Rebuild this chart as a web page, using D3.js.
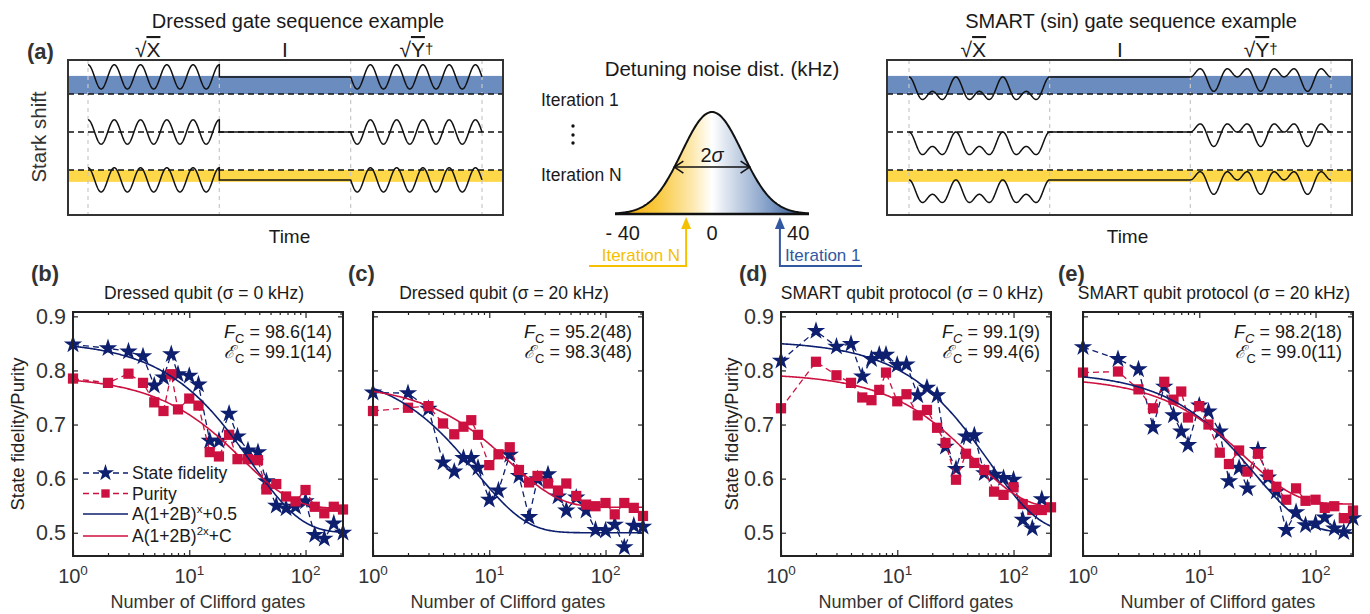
<!DOCTYPE html>
<html>
<head>
<meta charset="utf-8">
<script src="https://cdn.jsdelivr.net/npm/d3@7"></script>
<style>
  body { margin: 0; background: #fff; }
  text { font-family: Arial, "Liberation Sans", Helvetica, sans-serif; fill: #1a1a1a; }
</style>
</head>
<body>
<svg id="fig" width="1370" height="614"></svg>
<script>
// ---------- data ----------
var clifford = [1, 2, 3, 4, 5, 6, 7, 8, 10, 12, 15, 18, 22, 26, 32, 39, 46, 56, 68, 82, 100, 120, 145, 175, 210];

// (b) dressed qubit, sigma = 0 kHz
var fidelityB = [0.848, 0.841, 0.835, 0.826, 0.772, 0.787, 0.830, 0.793, 0.790, 0.774, 0.670, 0.670, 0.720,
                 0.678, 0.652, 0.649, 0.595, 0.550, 0.545, 0.548, 0.558, 0.496, 0.489, 0.517, 0.500];
var purityB   = [0.785, 0.777, 0.794, 0.777, 0.741, 0.725, 0.793, 0.728, 0.748, 0.735, 0.649, 0.641, 0.681,
                 0.636, 0.636, 0.634, 0.580, 0.590, 0.567, 0.558, 0.579, 0.548, 0.536, 0.548, 0.543];
// (c) dressed qubit, sigma = 20 kHz
var fidelityC = [0.759, 0.758, 0.729, 0.630, 0.613, 0.638, 0.638, 0.620, 0.561, 0.578, 0.644, 0.605, 0.529,
                 0.599, 0.608, 0.567, 0.541, 0.565, 0.541, 0.505, 0.504, 0.515, 0.473, 0.513, 0.511];
var purityC   = [0.725, 0.731, 0.734, 0.702, 0.682, 0.696, 0.708, 0.681, 0.625, 0.645, 0.658, 0.616, 0.593,
                 0.605, 0.591, 0.578, 0.591, 0.568, 0.552, 0.549, 0.555, 0.534, 0.555, 0.546, 0.531];
// (d) SMART, sigma = 0 kHz
var fidelityD = [0.818, 0.873, 0.844, 0.849, 0.789, 0.821, 0.829, 0.829, 0.810, 0.811, 0.754, 0.768, 0.754,
                 0.659, 0.618, 0.678, 0.680, 0.610, 0.607, 0.601, 0.598, 0.524, 0.508, 0.562, null];
var purityD   = [0.730, 0.816, 0.791, 0.777, 0.750, 0.745, 0.764, 0.796, 0.743, 0.756, 0.717, 0.727, 0.694,
                 0.666, 0.598, 0.646, 0.629, 0.616, 0.576, 0.570, 0.584, 0.553, 0.542, 0.542, 0.547];
// (e) SMART, sigma = 20 kHz
var fidelityE = [0.843, 0.821, 0.802, 0.695, 0.770, 0.717, 0.687, 0.662, 0.735, 0.724, 0.687, 0.595, 0.620,
                 0.582, 0.653, 0.602, 0.576, 0.505, 0.538, 0.514, 0.517, 0.528, 0.508, 0.501, 0.527];
var purityE   = [0.796, 0.798, 0.765, 0.730, 0.779, 0.746, 0.761, 0.713, 0.734, 0.700, 0.648, 0.627, 0.652,
                 0.613, 0.646, 0.607, 0.585, 0.561, 0.582, 0.559, 0.561, 0.546, 0.549, 0.527, 0.541];

// fit parameters [A, B, C]: fidelity A(1+2B)^x+0.5, purity A(1+2B)^2x+C
var fidFitB = [0.355, -0.0145, 0.5],  purFitB = [0.245, -0.0086, 0.545];
var fidFitC = [0.304, -0.061, 0.5],   purFitC = [0.229, -0.0165, 0.547];
var fidFitD = [0.355, -0.008, 0.5],   purFitD = [0.250, -0.0055, 0.545];
var fidFitE = [0.298, -0.0165, 0.5],  purFitE = [0.235, -0.0099, 0.553];

var panelLetters = ["(b)", "(c)", "(d)", "(e)"];
var panelTitles = ["Dressed qubit (\u03c3 = 0 kHz)", "Dressed qubit (\u03c3 = 20 kHz)",
                   "SMART qubit protocol (\u03c3 = 0 kHz)", "SMART qubit protocol (\u03c3 = 20 kHz)"];
var fcLabels = ["98.6(14)", "95.2(48)", "99.1(9)", "98.2(18)"];
var ecLabels = ["99.1(14)", "98.3(48)", "99.4(6)", "99.0(11)"];
var yTicks = [0.5, 0.6, 0.7, 0.8, 0.9];
var xMajor = [1, 10, 100];
var xMinor = [2, 3, 4, 5, 6, 7, 8, 9, 20, 30, 40, 50, 60, 70, 80, 90, 200];
var legendLabels = ["State fidelity", "Purity", "A(1+2B)", "A(1+2B)"];

// schematic (a)
var gateNames = ["\u221aX", "I", "\u221aY\u2020"];
var starkShift = [0.45, 0, -0.26];      // flat level of each row, in row units
var detuneTicks = [-40, 0, 40];
var noiseSigma = 14;
var iterMarks = [{ label: "Iteration N", det: -12, color: "#f5c000", dir: -1 },
                 { label: "Iteration 1", det: 31.5, color: "#3358a2", dir: 1 }];

var navy = "#0d1f6e", crimson = "#cc1140";

var svg = d3.select("#fig");

// ---------- panels (b)-(e) ----------
var panelTop = 312, panelH = 244, panelW = 270;
var lefts = [73, 373, 781, 1083];
var fidSets = [fidelityB, fidelityC, fidelityD, fidelityE];
var purSets = [purityB, purityC, purityD, purityE];
var fidFits = [fidFitB, fidFitC, fidFitD, fidFitE];
var purFits = [purFitB, purFitC, purFitD, purFitE];

var star = d3.symbol().type(d3.symbolStar).size(105);
var square = d3.symbol().type(d3.symbolSquare).size(105);

function drawPanel(i) {
  var left = lefts[i];
  var g = svg.append("g").attr("transform", "translate(" + left + "," + panelTop + ")");
  var x = d3.scaleLog().domain([1, 210]).range([0, panelW]);
  var y = d3.scaleLinear().domain([0.457, 0.908]).range([panelH, 0]);

  // inward ticks on all four sides
  function tickGroup(axis, tx, ty) {
    var a = g.append("g").attr("transform", "translate(" + tx + "," + ty + ")").call(axis);
    a.select(".domain").remove();
    a.selectAll("line").attr("stroke", "#222").attr("stroke-width", 1.2);
    a.selectAll("text").remove();
  }
  tickGroup(d3.axisBottom(x).tickValues(xMajor).tickSize(-6), 0, panelH);
  tickGroup(d3.axisBottom(x).tickValues(xMinor).tickSize(-3), 0, panelH);
  tickGroup(d3.axisTop(x).tickValues(xMajor).tickSize(-6), 0, 0);
  tickGroup(d3.axisTop(x).tickValues(xMinor).tickSize(-3), 0, 0);
  tickGroup(d3.axisLeft(y).tickValues(yTicks).tickSize(-5), 0, 0);
  tickGroup(d3.axisRight(y).tickValues(yTicks).tickSize(-5), panelW, 0);

  // data
  var pts = function (vals) { return clifford.map(function (c, k) { return [c, vals[k]]; }); };
  var line = d3.line().defined(function (d) { return d[1] != null; })
    .x(function (d) { return x(d[0]); }).y(function (d) { return y(d[1]); });

  [[fidSets[i], navy, star], [purSets[i], crimson, square]].forEach(function (s) {
    var data = pts(s[0]);
    g.append("path").attr("d", line(data)).attr("fill", "none")
      .attr("stroke", s[1]).attr("stroke-width", 1.3).attr("stroke-dasharray", "6,4");
    g.selectAll(null).data(data.filter(function (d) { return d[1] != null; })).enter()
      .append("path").attr("d", s[2])
      .attr("transform", function (d) { return "translate(" + x(d[0]) + "," + y(d[1]) + ")"; })
      .attr("fill", s[1]);
  });

  // fits
  var grid = d3.range(0, 1.0001, 0.004).map(function (f) { return Math.pow(210, f); });
  var fp = fidFits[i], pp = purFits[i];
  var fitF = grid.map(function (n) { return [n, fp[0] * Math.pow(1 + 2 * fp[1], n) + fp[2]]; });
  var fitP = grid.map(function (n) { return [n, pp[0] * Math.pow(1 + 2 * pp[1], 2 * n) + pp[2]]; });
  g.append("path").attr("d", line(fitF)).attr("fill", "none").attr("stroke", navy).attr("stroke-width", 1.6);
  g.append("path").attr("d", line(fitP)).attr("fill", "none").attr("stroke", crimson).attr("stroke-width", 1.6);

  // frame
  g.append("rect").attr("width", panelW).attr("height", panelH)
    .attr("fill", "none").attr("stroke", "#222").attr("stroke-width", 2);

  // x tick labels 10^k
  xMajor.forEach(function (v, k) {
    var t = g.append("text").attr("x", x(v)).attr("y", panelH + 27)
      .attr("text-anchor", "middle").style("font-size", "20px").style("fill", "#333");
    t.append("tspan").text("10");
    t.append("tspan").attr("dy", -8).style("font-size", "13.5px").text(k);
  });
  g.append("text").attr("x", panelW / 2).attr("y", panelH + 52).attr("text-anchor", "middle")
    .style("font-size", "18px").style("fill", "#333").text("Number of Clifford gates");

  // y tick labels only on (b) and (d)
  if (i === 0 || i === 2) {
    yTicks.forEach(function (v) {
      g.append("text").attr("x", -7).attr("y", y(v) + 7.5).attr("text-anchor", "end")
        .style("font-size", "21.5px").style("fill", "#333").text(v.toFixed(1));
    });
    g.append("text").attr("transform", "translate(" + (i === 0 ? -49 : -43) + "," + panelH / 2 + ") rotate(-90)")
      .attr("text-anchor", "middle").style("font-size", "18.5px").style("fill", "#222")
      .text("State fidelity/Purity");
  }

  // titles
  g.append("text").attr("x", panelW / 2 - 4).attr("y", -13).attr("text-anchor", "middle")
    .style("font-size", "17.5px").text(panelTitles[i]);
  g.append("text").attr("x", i % 2 === 0 ? -42 : -25).attr("y", -31)
    .style("font-size", "22px").style("font-weight", "bold").style("fill", "#333").text(panelLetters[i]);

  // F_C and E_C
  var italicSub = i >= 2;
  var t1 = g.append("text").attr("x", panelW - 11).attr("y", 26).attr("text-anchor", "end").style("font-size", "18px");
  t1.append("tspan").style("font-style", "italic").text("F");
  t1.append("tspan").attr("dy", 5).style("font-size", "13px").style("font-style", italicSub ? "italic" : "normal").text("C");
  t1.append("tspan").attr("dy", -5).text(" = " + fcLabels[i]);
  var t2 = g.append("text").attr("x", panelW - 11).attr("y", 46).attr("text-anchor", "end").style("font-size", "18px");
  t2.append("tspan").style("font-style", "italic").text("\u2130");
  t2.append("tspan").attr("dy", 5).style("font-size", "13px").text("C");
  t2.append("tspan").attr("dy", -5).text(" = " + ecLabels[i]);

  // legend in (b)
  if (i === 0) {
    var lg = g.append("g").attr("transform", "translate(10,161)");
    var rows = [[navy, "6,4", star], [crimson, "6,4", square], [navy, null, null], [crimson, null, null]];
    rows.forEach(function (r, k) {
      var yy = k * 20.5 + (k === 3 ? 1.5 : 0);
      lg.append("line").attr("x1", 0).attr("x2", 45).attr("y1", yy).attr("y2", yy)
        .attr("stroke", r[0]).attr("stroke-width", 1.4).attr("stroke-dasharray", r[1]);
      if (r[2]) lg.append("path").attr("d", d3.symbol().type(k === 0 ? d3.symbolStar : d3.symbolSquare).size(k === 0 ? 90 : 70))
        .attr("transform", "translate(22.5," + yy + ")").attr("fill", r[0]);
      var t = lg.append("text").attr("x", 49).attr("y", yy + 6).style("font-size", "17.5px");
      t.append("tspan").text(legendLabels[k]);
      if (k === 2) { t.append("tspan").attr("dy", -7).style("font-size", "11.5px").text("x"); t.append("tspan").attr("dy", 7).text("+0.5"); }
      if (k === 3) { t.append("tspan").attr("dy", -7).style("font-size", "11.5px").text("2x"); t.append("tspan").attr("dy", 7).text("+C"); }
    });
  }
}
[0, 1, 2, 3].forEach(drawPanel);

// ---------- panel (a): gate sequence schematics ----------
var boxTop = 60, boxBot = 215;
var ys = d3.scaleLinear().domain([0, 2]).range([94, 170]);

function drawSchematic(box, kind) {
  var g = svg.append("g");
  var xs = d3.scaleLinear().domain([0, 3]).range([box.g0, box.g1]);
  // colored bands between reference and shifted level
  g.append("rect").attr("x", box.x0).attr("width", box.x1 - box.x0)
    .attr("y", ys(0 - starkShift[0]) - 1).attr("height", ys(0) - ys(0 - starkShift[0]) + 1).attr("fill", "#6b8cbf");
  g.append("rect").attr("x", box.x0).attr("width", box.x1 - box.x0)
    .attr("y", ys(2)).attr("height", ys(2 - starkShift[2]) - ys(2) + 2).attr("fill", "#ffd84a");
  // gate boundaries
  d3.range(4).forEach(function (k) {
    g.append("line").attr("x1", xs(k)).attr("x2", xs(k)).attr("y1", boxTop).attr("y2", boxBot)
      .attr("stroke", "#c8c8c8").attr("stroke-width", 1.2).attr("stroke-dasharray", "4,4");
  });
  // reference (zero-shift) lines
  [0, 1, 2].forEach(function (r) {
    g.append("line").attr("x1", box.x0).attr("x2", box.x1).attr("y1", ys(r)).attr("y2", ys(r))
      .attr("stroke", "#111").attr("stroke-width", 1.4).attr("stroke-dasharray", "6,4");
  });
  // waveforms
  var line = d3.line().x(function (d) { return xs(d[0]); }).y(function (d) { return ys(d[1]); });
  var ts = d3.range(0, 1.0001, 0.0025);
  [0, 1, 2].forEach(function (r) {
    var lev = r - starkShift[r], pts = [];
    if (kind === "dressed") {
      var A = 0.32;
      ts.forEach(function (t) { pts.push([t, lev - A * Math.cos(2 * Math.PI * 5 * t)]); });
      pts.push([1, lev]);
      pts.push([2, lev]);
      ts.forEach(function (t) { pts.push([2 + t, lev + A * Math.sin(2 * Math.PI * 5 * t)]); });
    } else {
      var B = 0.19;
      ts.forEach(function (t) { var u = 6 * Math.PI * t; pts.push([t, lev + B * (2 - Math.cos(u) - Math.cos(2 * u))]); });
      pts.push([2, lev]);
      ts.forEach(function (t) { var u = Math.PI + 6 * Math.PI * t; pts.push([2 + t, lev + B * (Math.cos(u) + Math.cos(2 * u))]); });
    }
    g.append("path").attr("d", line(pts)).attr("fill", "none").attr("stroke", "#111").attr("stroke-width", 1.5);
  });
  g.append("rect").attr("x", box.x0).attr("y", boxTop).attr("width", box.x1 - box.x0).attr("height", boxBot - boxTop)
    .attr("fill", "none").attr("stroke", "#333").attr("stroke-width", 2);
  // labels
  gateNames.forEach(function (nm, k) {
    var t = g.append("text").attr("x", xs(k + 0.5) - (k === 0 ? 6 : 0)).attr("y", 57).attr("text-anchor", "middle")
      .style("font-size", "21px");
    if (k === 1) { t.text("I"); return; }
    t.append("tspan").text("\u221a");
    t.append("tspan").style("text-decoration", "overline").text(k === 0 ? "X" : "Y");
    if (k === 2) t.append("tspan").attr("dy", -3).style("font-size", "15px").text("\u2020");
  });
  g.append("text").attr("x", box.tx).attr("y", 28).attr("text-anchor", "middle").style("font-size", "20px").text(box.title);
  g.append("text").attr("x", (box.x0 + box.x1) / 2 + box.timeOff).attr("y", 243).attr("text-anchor", "middle")
    .style("font-size", "19px").text("Time");
}

drawSchematic({ x0: 68, x1: 503, g0: 88, g1: 482, tx: 298, timeOff: 4, title: "Dressed gate sequence example" }, "dressed");
drawSchematic({ x0: 887, x1: 1352, g0: 909, g1: 1331, tx: 1131, timeOff: 8, title: "SMART (sin) gate sequence example" }, "smart");

svg.append("text").attr("x", 27).attr("y", 59).style("font-size", "22px").style("font-weight", "bold")
  .style("fill", "#333").text("(a)");
svg.append("text").attr("transform", "translate(46,137) rotate(-90)").attr("text-anchor", "middle")
  .style("font-size", "20.5px").style("fill", "#333").text("Stark shift");
svg.append("text").attr("x", 541).attr("y", 106).style("font-size", "17.5px").text("Iteration 1");
svg.append("text").attr("x", 541).attr("y", 181).style("font-size", "17.5px").text("Iteration N");
[126, 135, 143].forEach(function (cy) {
  svg.append("circle").attr("cx", 573).attr("cy", cy).attr("r", 1.7).attr("fill", "#111");
});

// ---------- detuning noise distribution ----------
var xg = d3.scaleLinear().domain([-45, 45]).range([615, 809]);
var yg = d3.scaleLinear().domain([0, 1]).range([214, 112]);
var defs = svg.append("defs");
var grad = defs.append("linearGradient").attr("id", "noiseGrad").attr("gradientUnits", "userSpaceOnUse")
  .attr("x1", xg(-45)).attr("x2", xg(45)).attr("y1", 0).attr("y2", 0);
[[0, "#f4a900"], [0.22, "#f9c940"], [0.4, "#fde9b0"], [0.5, "#ffffff"], [0.62, "#c9d5e6"], [0.8, "#7e9bc5"], [1, "#1c437f"]]
  .forEach(function (s) { grad.append("stop").attr("offset", s[0]).attr("stop-color", s[1]); });

var gauss = d3.range(-45, 45.01, 0.5).map(function (d) { return [d, Math.exp(-d * d / (2 * noiseSigma * noiseSigma))]; });
var area = d3.area().x(function (d) { return xg(d[0]); }).y0(yg(0)).y1(function (d) { return yg(d[1]); });
var gl = d3.line().x(function (d) { return xg(d[0]); }).y(function (d) { return yg(d[1]); });
svg.append("path").attr("d", area(gauss)).attr("fill", "url(#noiseGrad)");
svg.append("path").attr("d", gl(gauss)).attr("fill", "none").attr("stroke", "#111").attr("stroke-width", 2);
svg.append("line").attr("x1", xg(-45)).attr("x2", xg(45)).attr("y1", yg(0)).attr("y2", yg(0))
  .attr("stroke", "#111").attr("stroke-width", 2.5);

// 2 sigma arrow
var hw = 1.246 * noiseSigma, ay = yg(Math.exp(-hw * hw / (2 * noiseSigma * noiseSigma)));
svg.append("line").attr("x1", xg(-hw)).attr("x2", xg(hw)).attr("y1", ay).attr("y2", ay).attr("stroke", "#111").attr("stroke-width", 1.6);
[-1, 1].forEach(function (s) {
  var tip = xg(s * hw);
  svg.append("path").attr("d", "M" + (tip - s * 9) + "," + (ay - 6) + "L" + tip + "," + ay + "L" + (tip - s * 9) + "," + (ay + 6))
    .attr("fill", "none").attr("stroke", "#111").attr("stroke-width", 1.6);
});
var sig = svg.append("text").attr("x", xg(0)).attr("y", ay - 5).attr("text-anchor", "middle").style("font-size", "20px");
sig.append("tspan").text("2");
sig.append("tspan").style("font-style", "italic").text("\u03c3");

svg.append("text").attr("x", 722).attr("y", 76).attr("text-anchor", "middle").style("font-size", "20.5px")
  .text("Detuning noise dist. (kHz)");
detuneTicks.forEach(function (v) {
  svg.append("text").attr("x", xg(v) - (v < 0 ? 3 : 0)).attr("y", 240).attr("text-anchor", "middle")
    .style("font-size", "20px").text(v < 0 ? "- " + Math.abs(v) : v);
});

// iteration arrows
iterMarks.forEach(function (m) {
  var ax = xg(m.det), base = 266, end = m.dir < 0 ? 589 : 862;
  svg.append("path").attr("d", "M" + end + "," + base + "L" + ax + "," + base + "L" + ax + "," + 227)
    .attr("fill", "none").attr("stroke", m.color).attr("stroke-width", 2);
  svg.append("path").attr("d", "M" + ax + ",217L" + (ax - 5) + ",229L" + (ax + 5) + ",229Z").attr("fill", m.color);
  svg.append("text").attr("x", m.dir < 0 ? ax - 6 : ax + 5).attr("y", 261)
    .attr("text-anchor", m.dir < 0 ? "end" : "start").style("font-size", "17px").style("fill", m.color).text(m.label);
});
</script>
</body>
</html>
